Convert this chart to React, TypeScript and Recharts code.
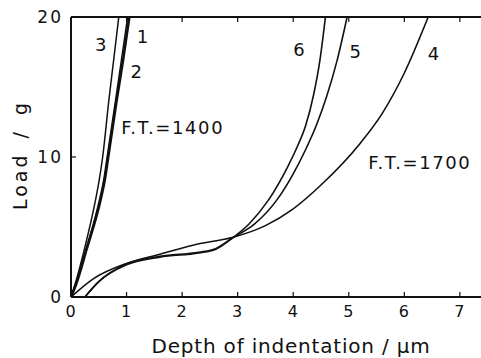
import React from "react"
import { LineChart, Line, XAxis, YAxis, ReferenceDot } from "recharts"

// F.T. = 1400 curves (steep)
const curve1X = [0, 0.09, 0.27, 0.51, 0.59, 0.65, 0.8, 0.91, 1.02]
const curve1Y = [0, 1, 3.4, 6.9, 8.4, 10, 14, 17, 20]
const curve2X = [0, 0.1, 0.28, 0.53, 0.61, 0.67, 0.82, 0.94, 1.05]
const curve2Y = [0, 1, 3.4, 6.9, 8.4, 10, 14, 17, 20]
const curve3X = [0, 0.08, 0.24, 0.44, 0.51, 0.57, 0.68, 0.77, 0.86]
const curve3Y = [0, 1, 3.4, 6.9, 8.4, 10, 14, 17, 20]

// F.T. = 1700 curves
const curve4X = [0, 0.4, 1.0, 1.6, 2.3, 2.9, 3.5, 4.0, 4.5, 5.2, 5.6, 6.0, 6.43]
const curve4Y = [0, 1.3, 2.4, 3.05, 3.8, 4.25, 5.1, 6.3, 8.0, 10.95, 13.1, 16.0, 20]
const curve5X = [0.25, 0.5, 1.0, 1.6, 2.3, 2.6, 2.9, 3.3, 3.7, 4.0, 4.22, 4.42, 4.6, 4.79, 4.97]
const curve5Y = [0, 1.1, 2.35, 2.9, 3.2, 3.45, 4.2, 5.2, 6.9, 8.8, 10.5, 12.3, 14.3, 16.9, 20]
const curve6X = [0.25, 0.5, 1.0, 1.6, 2.3, 2.6, 2.9, 3.2, 3.55, 3.9, 4.08, 4.22, 4.37, 4.48, 4.58]
const curve6Y = [0, 1.1, 2.3, 2.85, 3.15, 3.4, 4.2, 5.2, 6.9, 9.3, 10.8, 12.2, 14.5, 16.9, 20]

const xTicks = [0, 1, 2, 3, 4, 5, 6, 7]
const yTicks = [0, 10, 20]

const curveLabels = [
  { text: "3", x: 0.55, y: 18.0 },
  { text: "1", x: 1.3, y: 18.6 },
  { text: "2", x: 1.19, y: 16.1 },
  { text: "F.T.=1400", x: 1.83, y: 12.07 },
  { text: "6", x: 4.12, y: 17.7 },
  { text: "5", x: 5.13, y: 17.5 },
  { text: "4", x: 6.54, y: 17.4 },
  { text: "F.T.=1700", x: 6.28, y: 9.57 },
]

const zip = (xs: number[], ys: number[]) => xs.map((x, i) => ({ x, y: ys[i] }))

const series = [
  { id: "c1", data: zip(curve1X, curve1Y), w: 1.5 },
  { id: "c2", data: zip(curve2X, curve2Y), w: 2.6 },
  { id: "c3", data: zip(curve3X, curve3Y), w: 1.5 },
  { id: "c4", data: zip(curve4X, curve4Y), w: 1.6 },
  { id: "c5", data: zip(curve5X, curve5Y), w: 1.6 },
  { id: "c6", data: zip(curve6X, curve6Y), w: 1.6 },
]

const INK = "#111"
const FONT = "'DejaVu Sans', sans-serif"

export default function App() {
  return (
    <div style={{ position: "absolute", left: 0, top: 0, width: 481, height: 358, background: "#fff" }}>
      <LineChart width={481} height={358} margin={{ top: 0, right: 0, bottom: 0, left: 0 }}>
        <XAxis
          xAxisId="top"
          orientation="top"
          type="number"
          dataKey="x"
          domain={[0, 7.38]}
          ticks={xTicks}
          allowDataOverflow
          height={17}
          axisLine={{ stroke: INK, strokeWidth: 2 }}
          tickLine={{ stroke: INK, strokeWidth: 1.2 }}
          tickSize={-5}
          tickFormatter={() => ""}
        />
        <XAxis
          type="number"
          dataKey="x"
          domain={[0, 7.38]}
          ticks={xTicks}
          allowDataOverflow
          height={61}
          axisLine={{ stroke: INK, strokeWidth: 2 }}
          tickLine={{ stroke: INK, strokeWidth: 1.2 }}
          tickSize={-5}
          tickMargin={14}
          tick={{ fill: INK, fontSize: 16, fontFamily: FONT, letterSpacing: 1 }}
        />
        <YAxis
          type="number"
          domain={[0, 20]}
          ticks={yTicks}
          allowDataOverflow
          width={71}
          axisLine={{ stroke: INK, strokeWidth: 2 }}
          tickLine={{ stroke: INK, strokeWidth: 1.2 }}
          tickSize={-5}
          tickMargin={13}
          tick={{ fill: INK, fontSize: 17, fontFamily: FONT, letterSpacing: 2 }}
        />
        {series.map((s) => (
          <Line
            key={s.id}
            data={s.data}
            dataKey="y"
            type="monotone"
            stroke={INK}
            strokeWidth={s.w}
            dot={false}
            activeDot={false}
            isAnimationActive={false}
          />
        ))}
        {curveLabels.map((l) => (
          <ReferenceDot
            key={l.text}
            x={l.x}
            y={l.y}
            r={0}
            fill="none"
            stroke="none"
            label={{ value: l.text, position: "center", fill: INK, fontSize: 18, fontFamily: FONT, letterSpacing: 1.6 }}
          />
        ))}
      </LineChart>
      <svg width={481} height={358} style={{ position: "absolute", left: 0, top: 0, pointerEvents: "none" }}>
        <text
          x={291}
          y={353}
          textAnchor="middle"
          fontSize={20}
          fontFamily={FONT}
          letterSpacing={0.8}
          fill={INK}
        >
          Depth of indentation / μm
        </text>
        <text
          transform="translate(27,155) rotate(-90)"
          textAnchor="middle"
          fontSize={19}
          fontFamily={FONT}
          letterSpacing={3}
          wordSpacing={5}
          fill={INK}
        >
          Load / g
        </text>
      </svg>
    </div>
  )
}
